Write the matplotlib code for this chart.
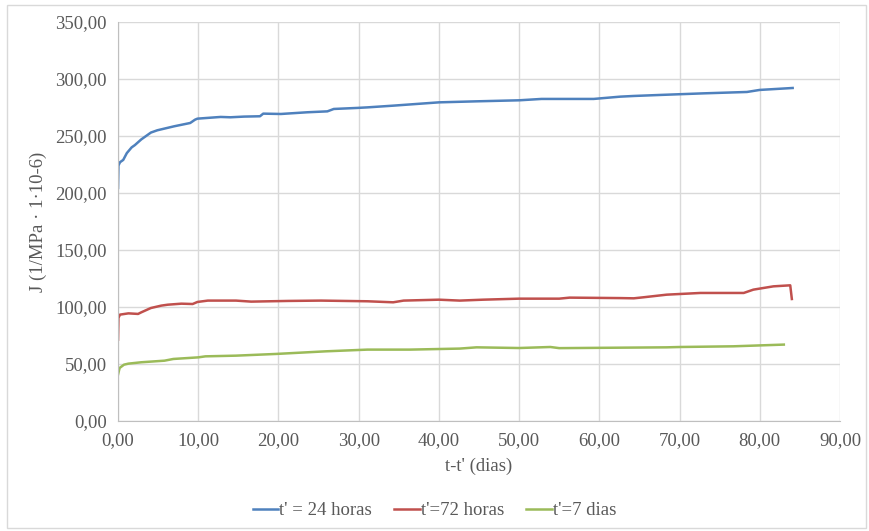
import matplotlib
matplotlib.use("Agg")
import matplotlib.pyplot as plt
from matplotlib.ticker import FuncFormatter, MultipleLocator
from matplotlib.patches import Rectangle

# t' = 24 horas
x_24h = [0, 0.05, 0.25, 0.65, 1.1, 1.7, 2.1, 2.9, 4.1, 4.9, 7.0, 9.0, 9.6, 9.9,
         12.8, 14.0, 15.7, 17.7, 18.1, 20.3, 23.6, 26.1, 26.9, 29.8, 31.1, 34.3,
         40.0, 44.7, 50.0, 52.8, 59.3, 62.6, 64.3, 67.6, 73.0, 78.4, 80.0, 84.1]
j_24h = [204.4, 224, 227, 229, 235, 240, 242, 247, 253, 255, 258.5, 261.4, 264.3, 265.2,
         266.7, 266.4, 267, 267.3, 269.6, 269.3, 270.8, 271.6, 273.7, 274.6, 275.1, 276.6,
         279.5, 280.4, 281.3, 282.5, 282.5, 284.5, 285.1, 286, 287.4, 288.6, 290.4, 292.1]

# t' = 72 horas
x_72h = [0, 0.05, 0.25, 1.3, 2.5, 2.9, 4.1, 5.4, 6.2, 7.9, 9.3, 9.9, 11.2, 14.7,
         16.6, 21.2, 25.3, 31.1, 34.3, 35.6, 40.0, 42.6, 45.5, 50.0, 55.0, 56.3,
         62.6, 64.3, 65.5, 68.4, 72.6, 78.0, 79.2, 81.7, 83.8, 84.0]
j_72h = [71.3, 90.4, 93.3, 94.4, 93.9, 95.3, 99.1, 101.2, 102, 102.9, 102.6, 104.4, 105.6, 105.6,
         104.7, 105.3, 105.6, 105, 104.1, 105.6, 106.4, 105.6, 106.4, 107.3, 107.3, 108.2,
         107.8, 107.6, 108.5, 110.8, 112.3, 112.3, 115.2, 118.1, 119, 107]

# t' = 7 dias
x_7d = [0, 0.2, 0.75, 1.3, 2.9, 5.8, 6.9, 10.0, 10.9, 14.7, 19.7, 25.9, 31.1,
        36.4, 42.6, 44.7, 50.0, 53.9, 55.0, 62.6, 68.4, 70.1, 76.7, 83.0]
j_7d = [40.6, 46.5, 49.4, 50.3, 51.5, 52.9, 54.4, 55.8, 56.7, 57.3, 58.8, 61.1, 62.6,
        62.6, 63.5, 64.6, 64.0, 64.9, 63.9, 64.3, 64.6, 64.9, 65.5, 67.0]

labels = ["t' = 24 horas", "t'=72 horas", "t'=7 dias"]
colors = ["#4F81BD", "#C0504D", "#9BBB59"]

plt.rcParams['font.family'] = ['Liberation Serif', 'DejaVu Serif']
plt.rcParams['font.size'] = 13.5

fig = plt.figure(figsize=(8.69, 5.31), dpi=100)
ax = fig.add_axes([0.1358, 0.2072, 0.9666 - 0.1358, 0.9586 - 0.2072])

for xs, ys, lab, c in zip([x_24h, x_72h, x_7d], [j_24h, j_72h, j_7d], labels, colors):
    ax.plot(xs, ys, color=c, lw=1.8, label=lab)

ax.set_xlim(0, 90)
ax.set_ylim(0, 350)
ax.xaxis.set_major_locator(MultipleLocator(10))
ax.yaxis.set_major_locator(MultipleLocator(50))
fmt = FuncFormatter(lambda v, p: f"{v:.2f}".replace(".", ","))
ax.xaxis.set_major_formatter(fmt)
ax.yaxis.set_major_formatter(fmt)

ax.grid(True, color="#D9D9D9", lw=1)
ax.set_axisbelow(True)
for s in ["top", "right"]:
    ax.spines[s].set_visible(False)
for s in ["left", "bottom"]:
    ax.spines[s].set_color("#BFBFBF")
ax.tick_params(length=0, colors="#595959", pad=8)

ax.set_xlabel("t-t' (dias)", color="#595959", labelpad=6)
ax.set_ylabel("J (1/MPa · 1·10-6)", color="#595959", labelpad=6)

fig.legend(loc="center", bbox_to_anchor=(0.5, 0.038), ncol=3, frameon=False,
           handlelength=1.35, handletextpad=0.05, columnspacing=1.2, labelcolor="#595959")

fig.patches.append(Rectangle((0.008, 0.006), 0.988, 0.984, transform=fig.transFigure,
                             fill=False, edgecolor="#D9D9D9", lw=1))

fig.savefig("out.png", dpi=100)
